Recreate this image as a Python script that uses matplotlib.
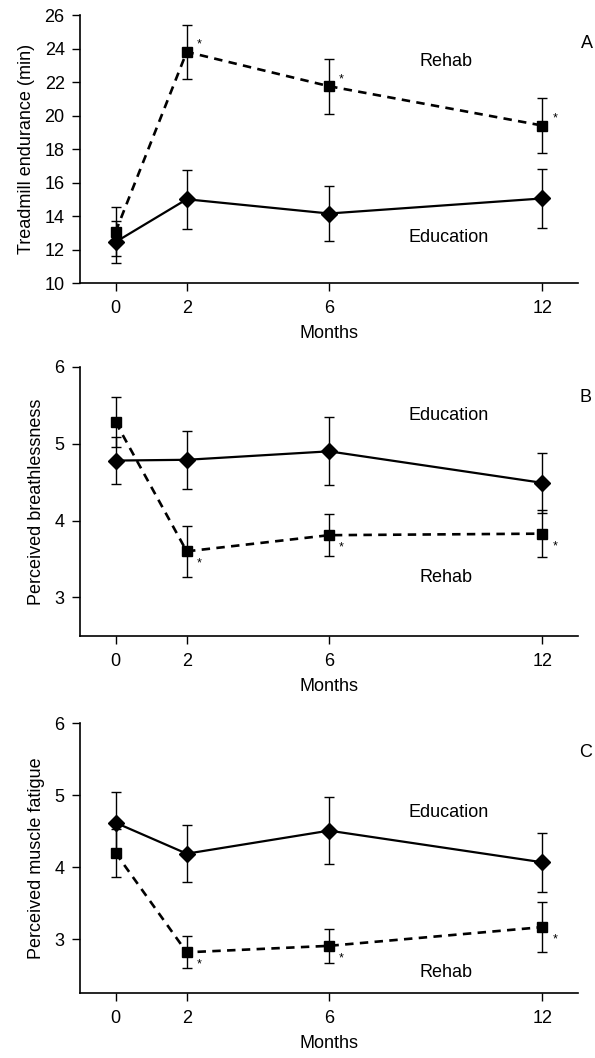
import matplotlib

matplotlib.use("Agg")

import matplotlib.pyplot as plt


MONTHS = [0, 2, 6, 12]

# panel A: treadmill endurance (min)
ENDURANCE_REHAB = [13.06, 23.8, 21.75, 19.4]
ENDURANCE_REHAB_ERR = [1.45, 1.6, 1.65, 1.63]
ENDURANCE_EDU = [12.45, 15.0, 14.15, 15.05]
ENDURANCE_EDU_ERR = [1.27, 1.75, 1.65, 1.75]

# panel B: perceived breathlessness
BREATH_REHAB = [5.28, 3.6, 3.81, 3.83]
BREATH_REHAB_ERR = [0.32, 0.33, 0.27, 0.31]
BREATH_EDU = [4.78, 4.79, 4.9, 4.49]
BREATH_EDU_ERR = [0.31, 0.38, 0.44, 0.39]

# panel C: perceived muscle fatigue
FATIGUE_REHAB = [4.2, 2.82, 2.91, 3.17]
FATIGUE_REHAB_ERR = [0.33, 0.22, 0.24, 0.35]
FATIGUE_EDU = [4.62, 4.19, 4.51, 4.07]
FATIGUE_EDU_ERR = [0.43, 0.4, 0.47, 0.41]

FONT_SIZE = 13

plt.rcParams["font.family"] = ["Liberation Sans", "DejaVu Sans"]
plt.rcParams["font.size"] = FONT_SIZE


def draw_panel(ax, rehab, rehab_err, edu, edu_err, ylabel, ylim, yticks,
               star_offset, rehab_xy, edu_xy, letter_xy, letter):
    ax.errorbar(
        MONTHS, edu, yerr=edu_err, color="black", linestyle="-", linewidth=1.6,
        marker="D", markersize=8, elinewidth=1.0, capsize=3.5, capthick=1.0,
        zorder=3,
    )
    ax.errorbar(
        MONTHS, rehab, yerr=rehab_err, color="black", linestyle=(0, (3.2, 2.4)),
        linewidth=1.9, marker="s", markersize=7, elinewidth=1.0, capsize=3.5,
        capthick=1.0, zorder=4,
    )
    for month, value in zip(MONTHS[1:], rehab[1:]):
        ax.annotate("*", (month, value), xytext=star_offset, textcoords="offset points",
                    ha="center", va="center", fontsize=9)

    ax.text(*rehab_xy, "Rehab", ha="center", va="center", fontsize=FONT_SIZE)
    ax.text(*edu_xy, "Education", ha="center", va="center", fontsize=FONT_SIZE)
    ax.text(*letter_xy, letter, ha="center", va="center", fontsize=FONT_SIZE, clip_on=False)

    ax.set_xlim(-1, 13)
    ax.set_xticks(MONTHS)
    ax.set_ylim(*ylim)
    ax.set_yticks(yticks)
    ax.set_xlabel("Months", fontsize=FONT_SIZE, labelpad=6)
    ax.set_ylabel(ylabel, fontsize=FONT_SIZE, labelpad=7)
    ax.spines["top"].set_visible(False)
    ax.spines["right"].set_visible(False)
    ax.spines["left"].set_linewidth(1.2)
    ax.spines["bottom"].set_linewidth(1.2)
    ax.tick_params(direction="out", length=6, width=1.0, labelsize=FONT_SIZE)
    ax.tick_params(axis="x", pad=6)
    ax.tick_params(axis="y", pad=5)


fig = plt.figure(figsize=(5.95, 10.58), dpi=100)
ax_a = fig.add_axes([0.1345, 0.7325, 0.837, 0.2533])
ax_b = fig.add_axes([0.1345, 0.3989, 0.837, 0.2545])
ax_c = fig.add_axes([0.1345, 0.0611, 0.837, 0.2552])

draw_panel(
    ax_a, ENDURANCE_REHAB, ENDURANCE_REHAB_ERR, ENDURANCE_EDU, ENDURANCE_EDU_ERR,
    "Treadmill endurance (min)", (10, 26), range(10, 27, 2),
    (9, 5), (9.3, 23.2), (9.35, 12.7), (13.25, 24.3), "A",
)
draw_panel(
    ax_b, BREATH_REHAB, BREATH_REHAB_ERR, BREATH_EDU, BREATH_EDU_ERR,
    "Perceived breathlessness", (2.5, 6), [3, 4, 5, 6],
    (9, -9), (9.3, 3.26), (9.35, 5.37), (13.2, 5.6), "B",
)
draw_panel(
    ax_c, FATIGUE_REHAB, FATIGUE_REHAB_ERR, FATIGUE_EDU, FATIGUE_EDU_ERR,
    "Perceived muscle fatigue", (2.25, 6), [3, 4, 5, 6],
    (9, -9), (9.3, 2.54), (9.35, 4.76), (13.2, 5.6), "C",
)

fig.savefig("out.png", dpi=100)
